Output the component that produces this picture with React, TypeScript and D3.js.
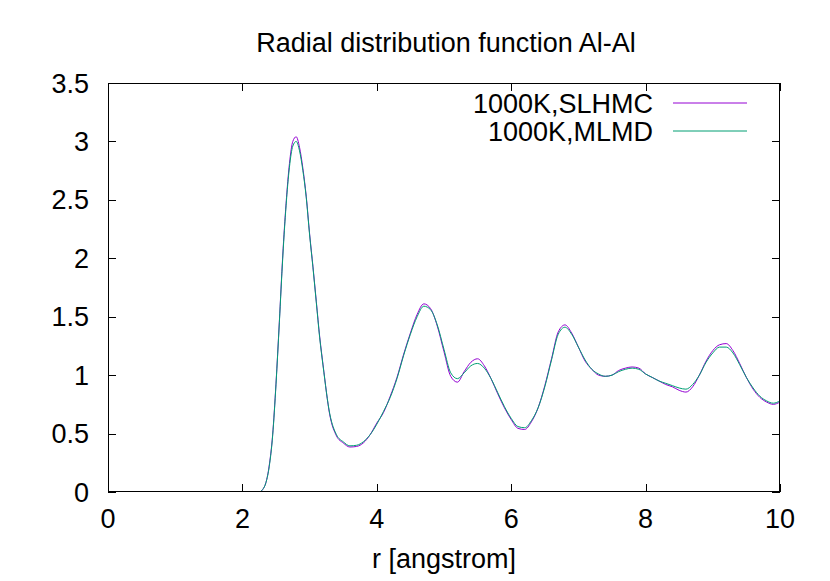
import React, { useEffect, useRef } from 'react';
import * as d3 from 'd3';

// r grid (angstrom) shared by both curves
const rValues = [
  0, 2.2, 2.25, 2.3, 2.35, 2.4, 2.45, 2.5, 2.55, 2.6, 2.65, 2.7, 2.75, 2.8, 2.85, 2.9, 2.95, 3.0,
  3.05, 3.1, 3.15, 3.2, 3.3, 3.4, 3.5, 3.6, 3.7, 3.8, 3.9, 4.0, 4.1, 4.2, 4.3, 4.4, 4.5, 4.6, 4.7,
  4.8, 4.9, 5.0, 5.1, 5.2, 5.3, 5.4, 5.5, 5.6, 5.7, 5.8, 5.9, 6.0, 6.1, 6.2, 6.3, 6.4, 6.5, 6.6,
  6.7, 6.8, 6.9, 7.0, 7.1, 7.2, 7.3, 7.4, 7.5, 7.6, 7.7, 7.8, 7.9, 8.0, 8.1, 8.2, 8.3, 8.4, 8.5,
  8.6, 8.7, 8.8, 8.9, 9.0, 9.1, 9.2, 9.3, 9.4, 9.5, 9.6, 9.7, 9.8, 9.9, 10.0,
];

// g(r), 1000K SLHMC
const slhmcValues = [
  0, 0, 0, 0.02, 0.08, 0.23, 0.49, 0.93, 1.46, 2.02, 2.47, 2.81, 3.0, 3.04, 2.95, 2.77, 2.53, 2.21,
  1.93, 1.63, 1.33, 1.09, 0.66, 0.48, 0.42, 0.385, 0.39, 0.42, 0.49, 0.59, 0.68, 0.82, 0.98, 1.18,
  1.36, 1.52, 1.61, 1.57, 1.42, 1.2, 0.99, 0.94, 1.03, 1.11, 1.14, 1.08, 0.97, 0.84, 0.72, 0.62,
  0.545, 0.535, 0.6, 0.72, 0.91, 1.14, 1.37, 1.43, 1.36, 1.24, 1.12, 1.05, 1.0, 0.99, 1.0, 1.04,
  1.06, 1.07, 1.06, 1.01, 0.98, 0.95, 0.92, 0.9, 0.87, 0.855, 0.9, 1.0, 1.12, 1.21, 1.26, 1.27,
  1.21, 1.1, 0.98, 0.88, 0.81, 0.77, 0.75, 0.77,
];

// g(r), 1000K MLMD
const mlmdValues = [
  0, 0, 0, 0.02, 0.08, 0.22, 0.48, 0.92, 1.45, 2.0, 2.45, 2.78, 2.96, 3.0, 2.92, 2.75, 2.52, 2.2,
  1.92, 1.62, 1.32, 1.08, 0.67, 0.49, 0.43, 0.395, 0.4, 0.43, 0.49, 0.58, 0.69, 0.81, 0.97, 1.17,
  1.35, 1.5, 1.59, 1.56, 1.43, 1.22, 1.02, 0.97, 1.02, 1.08, 1.1, 1.06, 0.97, 0.85, 0.73, 0.63,
  0.56, 0.55, 0.61, 0.72, 0.9, 1.13, 1.35, 1.41, 1.35, 1.24, 1.13, 1.05, 1.01, 0.99, 1.0, 1.03,
  1.05, 1.06, 1.05, 1.01, 0.98, 0.95, 0.93, 0.91, 0.89, 0.88, 0.92, 1.0, 1.11, 1.19, 1.24, 1.24,
  1.19, 1.09, 0.98, 0.89, 0.82, 0.78, 0.76, 0.78,
];

const xTicks = [0, 2, 4, 6, 8, 10];
const yTicks = [0, 0.5, 1, 1.5, 2, 2.5, 3, 3.5];
const yTickLabels = ['0', '0.5', '1', '1.5', '2', '2.5', '3', '3.5'];
const seriesNames = ['1000K,SLHMC', '1000K,MLMD'];
const seriesColors = ['#9400d3', '#009e73'];

const App = () => {
  const svgRef = useRef<SVGSVGElement>(null);

  useEffect(() => {
    const svg = d3.select(svgRef.current);
    svg.selectAll('*').remove();

    const width = 830;
    const height = 581;
    const margin = { top: 83, right: 50, bottom: 89, left: 108 };
    const font = '"Liberation Sans", Arial, Helvetica, sans-serif';
    const fontSize = 27;

    svg.attr('width', width).attr('height', height);
    svg.append('rect').attr('width', width).attr('height', height).attr('fill', '#fff');

    const x = d3.scaleLinear().domain([0, 10]).range([margin.left, width - margin.right]);
    const y = d3.scaleLinear().domain([0, 3.5]).range([height - margin.bottom, margin.top]);
    const [x0, x1] = x.range();
    const [y0, y1] = y.range();

    // ticks, drawn inward on all four sides (mirrored like gnuplot)
    const tickLen = 8;
    const ticks = svg.append('g').attr('stroke', '#000').attr('stroke-width', 1);
    xTicks.forEach((t) => {
      const px = Math.round(x(t)) + 0.5;
      ticks.append('line').attr('x1', px).attr('x2', px).attr('y1', y0).attr('y2', y0 - tickLen);
      ticks.append('line').attr('x1', px).attr('x2', px).attr('y1', y1).attr('y2', y1 + tickLen);
    });
    yTicks.forEach((t) => {
      const py = Math.round(y(t)) + 0.5;
      ticks.append('line').attr('x1', x0).attr('x2', x0 + tickLen).attr('y1', py).attr('y2', py);
      ticks.append('line').attr('x1', x1).attr('x2', x1 - tickLen).attr('y1', py).attr('y2', py);
    });

    // tick labels
    svg.append('g')
      .selectAll('text')
      .data(xTicks)
      .enter()
      .append('text')
      .attr('x', (d) => x(d))
      .attr('y', y0 + 36)
      .attr('text-anchor', 'middle')
      .text((d) => String(d));
    svg.append('g')
      .selectAll('text')
      .data(yTicks)
      .enter()
      .append('text')
      .attr('x', x0 - 19)
      .attr('y', (d) => y(d) + 9.5)
      .attr('text-anchor', 'end')
      .text((d, i) => yTickLabels[i]);

    // the two curves, clipped to the plot box
    svg.append('clipPath')
      .attr('id', 'plot-clip')
      .append('rect')
      .attr('x', x0)
      .attr('y', y1)
      .attr('width', x1 - x0)
      .attr('height', y0 - y1);

    const line = d3
      .line<number>()
      .x((d, i) => x(rValues[i]))
      .y((d) => y(d))
      .curve(d3.curveMonotoneX);

    [slhmcValues, mlmdValues].forEach((vals, i) => {
      svg.append('path')
        .attr('d', line(vals))
        .attr('fill', 'none')
        .attr('stroke', seriesColors[i])
        .attr('stroke-width', 1)
        .attr('clip-path', 'url(#plot-clip)');
    });

    // frame
    svg.append('rect')
      .attr('x', x0 + 0.5)
      .attr('y', y1 + 0.5)
      .attr('width', x1 - x0 - 1)
      .attr('height', y0 - y1 - 1)
      .attr('fill', 'none')
      .attr('stroke', '#000')
      .attr('stroke-width', 1);

    // legend
    seriesNames.forEach((name, i) => {
      const ly = 103 + i * 28;
      svg.append('text')
        .attr('x', 653)
        .attr('y', ly + 9.5)
        .attr('text-anchor', 'end')
        .text(name);
      svg.append('line')
        .attr('x1', 673)
        .attr('x2', 747)
        .attr('y1', ly)
        .attr('y2', ly)
        .attr('stroke', seriesColors[i])
        .attr('stroke-width', 1);
    });

    // title and axis label
    svg.append('text')
      .attr('x', (x0 + x1) / 2 + 2)
      .attr('y', 52)
      .attr('text-anchor', 'middle')
      .text('Radial distribution function Al-Al');
    svg.append('text')
      .attr('x', (x0 + x1) / 2)
      .attr('y', 568)
      .attr('text-anchor', 'middle')
      .text('r [angstrom]');

    svg.selectAll('text').attr('font-family', font).attr('font-size', fontSize).attr('fill', '#000');
  }, []);

  return (
    <div style={{ position: 'absolute', left: 0, top: 0 }}>
      <svg ref={svgRef}></svg>
    </div>
  );
};

export default App;
